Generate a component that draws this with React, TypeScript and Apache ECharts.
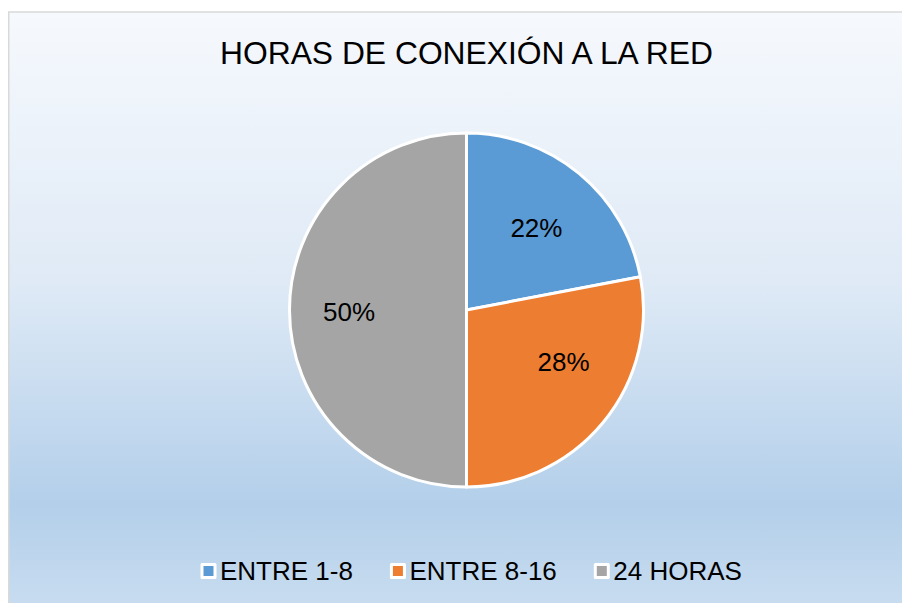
import React, { useEffect, useRef } from "react";
import * as echarts from "echarts";

const TITLE = "HORAS DE CONEXIÓN A LA RED";
const categories = ["ENTRE 1-8", "ENTRE 8-16", "24 HORAS"];
const values = [22, 28, 50];
const colors = ["#5b9bd5", "#ed7d31", "#a5a5a5"];

const FONT = "'Liberation Sans', Arial, sans-serif";
const CX = 458.5;
const CY = 302;
const R = 177;
const K = 1.25;
// small best-fit label nudges (Excel-style placement)
const labelNudgeX = [-3, 9, -3];
const labelNudgeY = [6, -21, 2];

export default function App() {
  const ref = useRef<HTMLDivElement>(null);
  useEffect(() => {
    if (!ref.current) return;
    const chart = echarts.init(ref.current, null, { renderer: "svg" });
    chart.setOption({
      animation: false,
      color: colors,
      graphic: [
        {
          type: "rect",
          z: -10,
          silent: true,
          shape: { x: 0.75, y: 4, width: 910, height: 600 },
          style: {
            fill: new echarts.graphic.LinearGradient(0, 0, 0, 1, [
              { offset: 0, color: "#f6f9fd" },
              { offset: 0.45, color: "#dfeaf6" },
              { offset: 0.82, color: "#b3cfea" },
              { offset: 1, color: "#c9ddf0" },
            ]),
            stroke: "#d9d9d9",
            lineWidth: 1.5,
          },
        },
        {
          type: "text",
          z: 10,
          x: 458.5,
          y: 45,
          style: {
            text: TITLE,
            font: `31.8px ${FONT}`,
            fill: "#000000",
            textAlign: "center",
            textVerticalAlign: "middle",
          },
        },
      ],
      legend: {
        data: categories,
        left: 187.5,
        top: 545,
        itemWidth: 13,
        itemHeight: 13,
        itemGap: 37,
        icon: "rect",
        itemStyle: { borderColor: "#ffffff", borderWidth: 3 },
        textStyle: { fontSize: 26, color: "#000000", fontFamily: FONT },
      },
      series: [
        {
          type: "pie",
          center: [CX, CY],
          radius: R,
          startAngle: 90,
          clockwise: true,
          avoidLabelOverlap: false,
          emphasis: { disabled: true },
          itemStyle: { borderColor: "#ffffff", borderWidth: 3 },
          label: {
            show: true,
            position: "inside",
            formatter: "{c}%",
            fontSize: 26,
            color: "#000000",
            fontFamily: FONT,
          },
          labelLine: { show: false },
          labelLayout: (p: any) => {
            const r = p.labelRect;
            const lx = r.x + r.width / 2;
            const ly = r.y + r.height / 2;
            const i = p.dataIndex;
            return {
              x: CX + (lx - CX) * K + labelNudgeX[i],
              y: CY + (ly - CY) * K + labelNudgeY[i],
            };
          },
          data: categories.map((name, i) => ({ name, value: values[i] })),
        },
      ],
    });
    return () => chart.dispose();
  }, []);
  return <div ref={ref} style={{ width: 902, height: 595 }} />;
}
